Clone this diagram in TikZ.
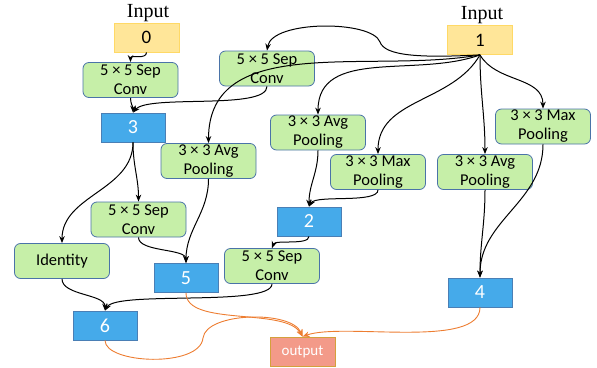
\documentclass[tikz,border=0pt]{standalone}
\usepackage{fontspec}
\setmainfont{Carlito}
\newfontfamily\inputfont{Liberation Serif}
\usetikzlibrary{arrows.meta}

\definecolor{inyellow}{HTML}{FFE699}
\definecolor{inborder}{HTML}{FFD966}
\definecolor{hidblue}{HTML}{45AAEA}
\definecolor{hidborder}{HTML}{4A7FB5}
\definecolor{opgreen}{HTML}{C6EFA8}
\definecolor{opborder}{HTML}{4A73A8}
\definecolor{outsalmon}{HTML}{F39A89}
\definecolor{outborder}{HTML}{D4A03C}
\definecolor{outline}{HTML}{ED7D31}

\tikzset{
  inbox/.style={draw=inborder,fill=inyellow,line width=0.8pt,minimum width=65pt,minimum height=29pt,inner sep=0pt,font=\fontsize{19}{22}\selectfont},
  hidbox/.style={draw=hidborder,fill=hidblue,line width=0.8pt,minimum width=64pt,minimum height=29pt,inner sep=0pt,text=white,font=\fontsize{20}{23}\selectfont},
  opbox/.style={draw=opborder,fill=opgreen,line width=0.8pt,rounded corners=6pt,minimum width=95pt,minimum height=35pt,inner sep=0pt,align=center,font=\fontsize{16.5}{19}\selectfont},
  outbox/.style={draw=outborder,fill=outsalmon,line width=0.8pt,minimum width=65pt,minimum height=29pt,inner sep=0pt,text=white,font=\fontsize{15}{18}\selectfont},
  label/.style={font=\inputfont\fontsize{20}{22}\selectfont,inner sep=0pt}
}

\begin{document}
\begin{tikzpicture}[x=1pt,y=-1pt]
      \useasboundingbox (0,0) rectangle (597,367);

      % inputs
      \node[label] (lab0) at (148,13) {Input};
      \node[label] (lab1) at (482,15) {Input};
      \node[inbox] (in0) at (146.5,37.5) {0};
      \node[inbox] (in1) at (480,40) {1};

      % operations
      \begin{scope}[every node/.style={opbox}]
        \node (sepA)  at (130.5,80)  {5 × 5 Sep\\Conv};
        \node (sepB)  at (267,68.5)  {5 × 5 Sep\\Conv};
        \node (avgA)  at (208.5,161) {3 × 3 Avg\\Pooling};
        \node (avgB)  at (318,132.5) {3 × 3 Avg\\Pooling};
        \node (maxA)  at (378,172)   {3 × 3 Max\\Pooling};
        \node (avgC)  at (485,172)   {3 × 3 Avg\\Pooling};
        \node (maxB)  at (543,126.5) {3 × 3 Max\\Pooling};
        \node (sepC)  at (138.5,219.5) {5 × 5 Sep\\Conv};
        \node (sepD)  at (272,266)   {5 × 5 Sep\\Conv};
        \node (ident) at (62,261)    {Identity};
      \end{scope}

      % hidden states
      \begin{scope}[every node/.style={hidbox}]
        \node (n2) at (309,221.5) {2};
        \node (n3) at (133,127.5) {3};
        \node (n4) at (480,292.5) {4};
        \node (n5) at (186,278)   {5};
        \node (n6) at (105,325.5) {6};
      \end{scope}

      \node[outbox] (out) at (302.5,351.5) {output};

      \begin{scope}[every edge/.style={draw,line width=1pt,-{Stealth[length=7pt,width=5.5pt]}}]
        \path (in0.south)  edge[out=-90,in=90] (sepA.north);
        \path (sepA.south) edge[out=-90,in=90] (n3.north);
        \path (sepB.south) edge[out=-90,in=50,looseness=0.45] (n3.north);
        \path (in1.south)  edge[out=190,in=90] (avgA.north);
        \path (in1.south)  edge[out=200,in=90] (avgB.north);
        \path (in1.south)  edge[out=240,in=90] (maxA.north);
        \path (in1.south)  edge[out=-90,in=90] (avgC.north);
        \path (in1.south)  edge[out=-60,in=90] (maxB.north);
        \path (n3.south)   edge[out=-90,in=90] (ident.north);
        \path (n3.south)   edge[out=-90,in=90] (sepC.north);
        \path (sepC.south) edge[out=-90,in=90,looseness=0.7] (n5.north);
        \path (avgA.south) edge[out=-90,in=90] (n5.north);
        \path (avgB.south) edge[out=-90,in=90] (n2.north);
        \path (maxA.south) edge[out=-90,in=60,looseness=0.5] (n2.north);
        \path (n2.south)   edge[out=-90,in=70,looseness=0.6] (sepD.north);
        \path (sepD.south) edge[out=-90,in=60,looseness=0.35] (n6.north);
        \path (ident.south) edge[out=-90,in=90,looseness=0.8] (n6.north);
        \path (avgC.south) edge[out=-90,in=90] (n4.north);
        \path (maxB.south) edge[out=-90,in=90] (n4.north);
      \end{scope}
      \draw[line width=1pt,-{Stealth[length=7pt,width=5.5pt]}] (in1.south)
        .. controls (420,58) and (385,56) .. (380,42)
        .. controls (372,20) and (272,20) .. (sepB.north);

      % outputs
      \begin{scope}[every edge/.style={draw=outline,line width=0.9pt,-{Stealth[length=7pt,width=5.5pt]}}]
        \path (n5.south) edge[out=-90,in=120,looseness=0.7] (out.north);
        \path (n4.south) edge[out=-90,in=20,looseness=0.6] (out.north);
      \end{scope}
      \draw[outline,line width=0.9pt,-{Stealth[length=7pt,width=5.5pt]}] (n6.south)
        .. controls (105,364) and (200,368) .. (203,338)
        .. controls (206,312) and (292,310) .. (out.north);

    \end{tikzpicture}
\end{document}
